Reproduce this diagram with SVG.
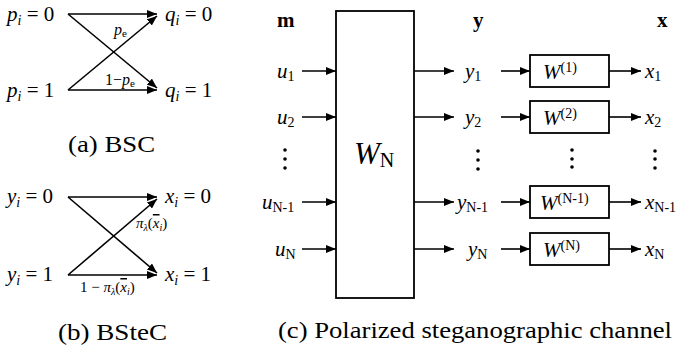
<svg xmlns="http://www.w3.org/2000/svg" width="681" height="349" viewBox="0 0 681 349" font-family="Liberation Serif">
<defs>
<marker id="ah" viewBox="0 0 10 8" refX="10" refY="4" markerWidth="10" markerHeight="8" markerUnits="userSpaceOnUse" orient="auto">
<path d="M0,0 L10,4 L0,8 z" fill="#000"/>
</marker>
<style>
.ln{stroke:#000;stroke-width:1.6;fill:none}
.bx{stroke:#000;stroke-width:1.8;fill:#fff}
</style>
</defs>
<g id="connectors">
<line class="ln" x1="68" y1="14" x2="157" y2="14" marker-end="url(#ah)"/>
<line class="ln" x1="68" y1="90" x2="157" y2="90" marker-end="url(#ah)"/>
<line class="ln" x1="68" y1="14" x2="157" y2="88" marker-end="url(#ah)"/>
<line class="ln" x1="68" y1="90" x2="157" y2="16" marker-end="url(#ah)"/>
<line class="ln" x1="68" y1="197" x2="157" y2="197" marker-end="url(#ah)"/>
<line class="ln" x1="68" y1="275" x2="157" y2="275" marker-end="url(#ah)"/>
<line class="ln" x1="68" y1="197" x2="157" y2="273" marker-end="url(#ah)"/>
<line class="ln" x1="68" y1="275" x2="157" y2="199" marker-end="url(#ah)"/>
<line class="ln" x1="302" y1="71" x2="336" y2="71" marker-end="url(#ah)"/>
<line class="ln" x1="302" y1="117" x2="336" y2="117" marker-end="url(#ah)"/>
<line class="ln" x1="302" y1="202" x2="336" y2="202" marker-end="url(#ah)"/>
<line class="ln" x1="302" y1="249" x2="336" y2="249" marker-end="url(#ah)"/>
<line class="ln" x1="414" y1="71" x2="454" y2="71" marker-end="url(#ah)"/>
<line class="ln" x1="414" y1="117" x2="454" y2="117" marker-end="url(#ah)"/>
<line class="ln" x1="414" y1="202" x2="454" y2="202" marker-end="url(#ah)"/>
<line class="ln" x1="414" y1="249" x2="454" y2="249" marker-end="url(#ah)"/>
<line class="ln" x1="501" y1="71" x2="530" y2="71" marker-end="url(#ah)"/>
<line class="ln" x1="501" y1="117" x2="530" y2="117" marker-end="url(#ah)"/>
<line class="ln" x1="501" y1="202" x2="530" y2="202" marker-end="url(#ah)"/>
<line class="ln" x1="501" y1="249" x2="530" y2="249" marker-end="url(#ah)"/>
<line class="ln" x1="609" y1="71" x2="641" y2="71" marker-end="url(#ah)"/>
<line class="ln" x1="609" y1="117" x2="641" y2="117" marker-end="url(#ah)"/>
<line class="ln" x1="609" y1="202" x2="641" y2="202" marker-end="url(#ah)"/>
<line class="ln" x1="609" y1="249" x2="641" y2="249" marker-end="url(#ah)"/>
</g>
<g id="bsc" font-family="Liberation Serif" font-size="21">
<text x="7" y="21"><tspan font-style="italic">p</tspan><tspan font-style="italic" font-size="14" dy="4">i</tspan><tspan dy="-4"> = 0</tspan></text>
<text x="7" y="97"><tspan font-style="italic">p</tspan><tspan font-style="italic" font-size="14" dy="4">i</tspan><tspan dy="-4"> = 1</tspan></text>
<text x="165" y="21"><tspan font-style="italic">q</tspan><tspan font-style="italic" font-size="14" dy="4">i</tspan><tspan dy="-4"> = 0</tspan></text>
<text x="165" y="97"><tspan font-style="italic">q</tspan><tspan font-style="italic" font-size="14" dy="4">i</tspan><tspan dy="-4"> = 1</tspan></text>
<text x="114" y="35" font-size="16"><tspan font-style="italic">p</tspan><tspan font-size="11" dy="2">e</tspan></text>
<text x="105" y="85" font-size="16">1−<tspan font-style="italic">p</tspan><tspan font-size="11" dy="2">e</tspan></text>
<text x="68" y="152" font-size="24" textLength="87" lengthAdjust="spacingAndGlyphs">(a) BSC</text>
</g>
<g id="bstec" font-family="Liberation Serif" font-size="21">
<text x="7" y="203"><tspan font-style="italic">y</tspan><tspan font-style="italic" font-size="14" dy="4">i</tspan><tspan dy="-4"> = 0</tspan></text>
<text x="7" y="281"><tspan font-style="italic">y</tspan><tspan font-style="italic" font-size="14" dy="4">i</tspan><tspan dy="-4"> = 1</tspan></text>
<text x="165" y="203"><tspan font-style="italic">x</tspan><tspan font-style="italic" font-size="14" dy="4">i</tspan><tspan dy="-4"> = 0</tspan></text>
<text x="165" y="281"><tspan font-style="italic">x</tspan><tspan font-style="italic" font-size="14" dy="4">i</tspan><tspan dy="-4"> = 1</tspan></text>
<text x="136" y="228" font-size="15"><tspan font-style="italic">π</tspan><tspan font-size="10" font-style="italic" dy="3">λ</tspan><tspan dy="-3">(</tspan><tspan font-style="italic" text-decoration="overline">x</tspan><tspan font-size="10" font-style="italic" dy="3">i</tspan><tspan dy="-3">)</tspan></text>
<text x="80" y="292" font-size="15">1 − <tspan font-style="italic">π</tspan><tspan font-size="10" font-style="italic" dy="3">λ</tspan><tspan dy="-3">(</tspan><tspan font-style="italic" text-decoration="overline">x</tspan><tspan font-size="10" font-style="italic" dy="3">i</tspan><tspan dy="-3">)</tspan></text>
<text x="58" y="340" font-size="24" textLength="109" lengthAdjust="spacingAndGlyphs">(b) BSteC</text>
</g>
<g id="encoder" font-family="Liberation Serif">
<rect class="bx" x="336" y="11" width="78" height="287"/>
<text font-style="italic" x="354" y="164" font-size="31">W<tspan font-style="normal" font-size="20" dy="3">N</tspan></text>
</g>
<g id="inputs" font-family="Liberation Serif" font-size="21">
<text font-weight="bold" x="277" y="27">m</text>
<text x="277" y="78"><tspan font-style="italic">u</tspan><tspan font-size="14" dy="3">1</tspan></text>
<text x="277" y="124"><tspan font-style="italic">u</tspan><tspan font-size="14" dy="3">2</tspan></text>
<text x="262" y="209"><tspan font-style="italic">u</tspan><tspan font-size="14" dy="3">N-1</tspan></text>
<text x="275" y="256"><tspan font-style="italic">u</tspan><tspan font-size="14" dy="3">N</tspan></text>
<circle cx="285" cy="150" r="1.8"/><circle cx="285" cy="159" r="1.8"/><circle cx="285" cy="168" r="1.8"/>
</g>
<g id="ys" font-family="Liberation Serif" font-size="21">
<text font-weight="bold" x="473" y="27">y</text>
<text x="465" y="78"><tspan font-style="italic">y</tspan><tspan font-size="14" dy="3">1</tspan></text>
<text x="465" y="124"><tspan font-style="italic">y</tspan><tspan font-size="14" dy="3">2</tspan></text>
<text x="457" y="209"><tspan font-style="italic">y</tspan><tspan font-size="14" dy="3">N-1</tspan></text>
<text x="468" y="256"><tspan font-style="italic">y</tspan><tspan font-size="14" dy="3">N</tspan></text>
<circle cx="478" cy="151" r="1.8"/><circle cx="478" cy="160" r="1.8"/><circle cx="478" cy="169" r="1.8"/>
</g>
<g id="w1" font-family="Liberation Serif" font-size="21"><rect class="bx" x="530" y="55" width="79" height="32"/><text font-style="italic" x="543" y="79">W<tspan font-style="normal" font-size="14" dy="-7">(1)</tspan></text></g>
<g id="w2" font-family="Liberation Serif" font-size="21"><rect class="bx" x="530" y="101" width="79" height="32"/><text font-style="italic" x="543" y="125">W<tspan font-style="normal" font-size="14" dy="-7">(2)</tspan></text></g>
<g id="wdots"><circle cx="572" cy="150" r="1.8"/><circle cx="572" cy="159" r="1.8"/><circle cx="572" cy="167" r="1.8"/></g>
<g id="wn1" font-family="Liberation Serif" font-size="21"><rect class="bx" x="530" y="186" width="79" height="32"/><text font-style="italic" x="540" y="210">W<tspan font-style="normal" font-size="14" dy="-7">(N-1)</tspan></text></g>
<g id="wn" font-family="Liberation Serif" font-size="21"><rect class="bx" x="530" y="233" width="79" height="32"/><text font-style="italic" x="543" y="257">W<tspan font-style="normal" font-size="14" dy="-7">(N)</tspan></text></g>
<g id="xs" font-family="Liberation Serif" font-size="21">
<text font-weight="bold" x="657" y="27">x</text>
<text x="645" y="78"><tspan font-style="italic">x</tspan><tspan font-size="14" dy="3">1</tspan></text>
<text x="645" y="124"><tspan font-style="italic">x</tspan><tspan font-size="14" dy="3">2</tspan></text>
<text x="645" y="209"><tspan font-style="italic">x</tspan><tspan font-size="14" dy="3">N-1</tspan></text>
<text x="645" y="256"><tspan font-style="italic">x</tspan><tspan font-size="14" dy="3">N</tspan></text>
<circle cx="655" cy="151" r="1.8"/><circle cx="655" cy="159" r="1.8"/><circle cx="655" cy="168" r="1.8"/>
</g>
<text font-family="Liberation Serif" font-size="24" x="278" y="338" textLength="394" lengthAdjust="spacingAndGlyphs">(c) Polarized steganographic channel</text>
</svg>
